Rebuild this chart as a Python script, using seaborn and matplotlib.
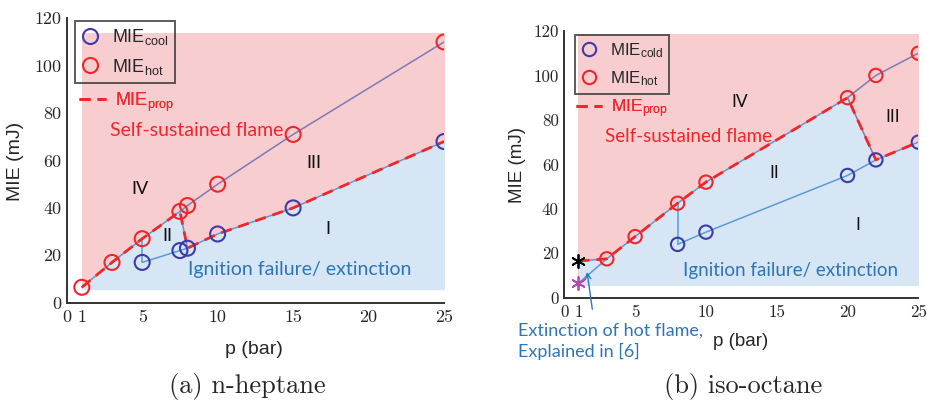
#!/usr/bin/env python3

import numpy as np
import matplotlib
matplotlib.use("Agg")
import matplotlib.pyplot as plt
from matplotlib.lines import Line2D
import seaborn as sns
import pandas as pd

sns.set_style("white")
plt.rcParams['font.family'] = ['Liberation Sans', 'DejaVu Sans']
plt.rcParams['mathtext.default'] = 'regular'

# ---- n-heptane (a) ----
hep_hot_p = [1, 3, 5, 7.5, 8, 10, 15, 25]
hep_hot_mie = [6.5, 17, 27, 38.5, 41, 50, 71, 110]
hep_cool_p = [5, 7.5, 8, 10, 15, 25]
hep_cool_mie = [17, 22, 23, 29, 40, 68]
hep_prop_p = [1, 3, 5, 7.5, 8, 10, 15, 25]
hep_prop_mie = [6.5, 17, 27, 38.5, 23, 29, 40, 68]
# connecting paths (light blue / grey-purple)
hep_blue_paths = [
    ([1, 3, 5, 7.5, 8], [6.5, 17, 27, 38.5, 41]),
    ([5, 5], [27, 17]),
    ([7.5, 8], [38.5, 23]),
    (hep_cool_p, hep_cool_mie),
]
hep_grey_paths = [
    ([8, 10, 15, 25], [41, 50, 71, 110]),
]
hep_regions = ["IV", "II", "III", "I"]
hep_region_p = [4.85, 6.7, 16.4, 17.3]
hep_region_mie = [48, 28, 59, 31]

# ---- iso-octane (b) ----
iso_hot_p = [3, 5, 8, 10, 20, 22, 25]
iso_hot_mie = [17.5, 27.5, 42.5, 52, 90, 100, 110]
iso_cold_p = [8, 10, 20, 22, 25]
iso_cold_mie = [24, 29.5, 55, 62, 70]
iso_prop_p = [1, 3, 5, 8, 10, 20, 22, 25]
iso_prop_mie = [16.5, 17.5, 27.5, 42.5, 52, 90, 62, 70]
iso_star_black = (1, 16.5)
iso_star_magenta = (1, 6.5)
iso_blue_paths = [
    ([1, 3, 5, 8, 10, 20], [6.5, 17.5, 27.5, 42.5, 52, 90]),
    ([1, 3], [16.5, 17.5]),
    ([8, 8], [42.5, 24]),
    (iso_cold_p, iso_cold_mie),
]
iso_grey_paths = [
    ([20, 22, 25], [90, 100, 110]),
    ([20, 22], [90, 62]),
]
iso_regions = ["IV", "III", "II", "I"]
iso_region_p = [12.4, 23.2, 14.8, 20.7]
iso_region_mie = [88, 81.5, 56, 32.5]

xticks = [0, 1, 5, 10, 15, 20, 25]
yticks = [0, 20, 40, 60, 80, 100, 120]

PINK = '#f8cdd0'
LBLUE = '#d6e6f5'
RED = '#f0262a'
DBLUE = '#3c3ca8'
LINEBLUE = '#5b9bd5'
GREY = '#7b7bb5'
TXTBLUE = '#2e75b6'


def draw_panel(ax, hot_p, hot_mie, cool_p, cool_mie, prop_p, prop_mie,
               blue_paths, grey_paths, top, msize, fs, cool_name):
    # background regions
    ax.fill_between([1, 25.15], 5.5, top, color=PINK, lw=0, zorder=0)
    ax.fill_between(prop_p + [25.15], 5.5, prop_mie + [prop_mie[-1]],
                    color=LBLUE, lw=0, zorder=0.5)

    for px, py in blue_paths:
        sns.lineplot(x=px, y=py, ax=ax, color=LINEBLUE, lw=1.1, sort=False,
                     estimator=None, zorder=2)
    for px, py in grey_paths:
        sns.lineplot(x=px, y=py, ax=ax, color=GREY, lw=1.1, sort=False,
                     estimator=None, zorder=2)

    sns.lineplot(x=prop_p, y=prop_mie, ax=ax, color=RED, lw=2.0, sort=False,
                 estimator=None, dashes=False, zorder=3)
    ax.lines[-1].set_dashes([4, 2.5])

    df_hot = pd.DataFrame({'p': hot_p, 'MIE': hot_mie})
    df_cool = pd.DataFrame({'p': cool_p, 'MIE': cool_mie})
    sns.scatterplot(data=df_cool, x='p', y='MIE', ax=ax, s=msize ** 2,
                    facecolor='none', edgecolor=DBLUE, linewidth=1.5,
                    zorder=4)
    sns.scatterplot(data=df_hot, x='p', y='MIE', ax=ax, s=msize ** 2,
                    facecolor='none', edgecolor=RED, linewidth=1.5,
                    zorder=4)

    ax.set_xlim(0, 25)
    ax.set_ylim(0, 120)
    ax.set_xticks(xticks)
    ax.set_yticks(yticks)
    ax.set_xticklabels([str(t) for t in xticks], family='cmr10', fontsize=fs)
    ax.set_yticklabels([str(t) for t in yticks], family='cmr10', fontsize=fs)
    ax.tick_params(direction='in', length=4, width=1, color='#333333',
                   pad=4)
    ax.tick_params(axis='x', pad=5)
    for s in ['top', 'right']:
        ax.spines[s].set_visible(False)
    for s in ['left', 'bottom']:
        ax.spines[s].set_color('#333333')
        ax.spines[s].set_linewidth(1.4)
    ax.set_xlabel('')
    ax.set_ylabel('')

    handles = [
        Line2D([], [], ls='none', marker='o', ms=msize, mfc='none',
               mec=DBLUE, mew=1.5),
        Line2D([], [], ls='none', marker='o', ms=msize, mfc='none',
               mec=RED, mew=1.5),
    ]
    leg = ax.legend(handles, [r'MIE$_{%s}$' % cool_name, r'MIE$_{hot}$'],
                    loc='upper left', frameon=True, fancybox=False,
                    fontsize=fs, handlelength=1.0, handletextpad=0.7,
                    borderpad=0.35, labelspacing=0.55, borderaxespad=0)
    leg.get_frame().set_facecolor('none')
    leg.get_frame().set_edgecolor('#333333')
    leg.get_frame().set_linewidth(1.4)
    return leg


fig = plt.figure(figsize=(9.28, 4.01), dpi=100)
ax1 = fig.add_axes([0.0719, 0.2451, 0.4066, 0.7093])
ax2 = fig.add_axes([0.6081, 0.2576, 0.3815, 0.6651])

leg1 = draw_panel(ax1, hep_hot_p, hep_hot_mie, hep_cool_p, hep_cool_mie,
                  hep_prop_p, hep_prop_mie, hep_blue_paths, hep_grey_paths,
                  114, 10.8, 13, 'cool')
leg1.set_bbox_to_anchor((0.022, 0.992), transform=ax1.transAxes)
leg2 = draw_panel(ax2, iso_hot_p, iso_hot_mie, iso_cold_p, iso_cold_mie,
                  iso_prop_p, iso_prop_mie, iso_blue_paths, iso_grey_paths,
                  118.6, 9.6, 12.2, 'cold')
leg2.set_bbox_to_anchor((0.030, 0.985), transform=ax2.transAxes)

# MIE_prop legend entries (outside the box)
for ax, y, fs in [(ax1, 0.705, 13), (ax2, 0.71, 12.5)]:
    h = Line2D([], [], color=RED, lw=2.0, dashes=[4, 2.5])
    lg = ax.legend([h], [r'MIE$_{prop}$'], loc='center left',
                   bbox_to_anchor=(0.033, y), frameon=False, fontsize=fs,
                   handlelength=1.5, handletextpad=0.5, labelcolor=RED,
                   borderaxespad=0, borderpad=0)
    ax.add_artist(lg)
ax1.add_artist(leg1)
ax2.add_artist(leg2)

# region labels
for ax, names, rp, rm, fs in [(ax1, hep_regions, hep_region_p, hep_region_mie, 13),
                              (ax2, iso_regions, iso_region_p, iso_region_mie, 12.5)]:
    for n, x, y in zip(names, rp, rm):
        ax.text(x, y, n, fontsize=fs, family='Lato', ha='center',
                va='center', color='#111111', zorder=5)

ax1.text(2.87, 72.6, 'Self-sustained flame', color=RED, family='Lato',
         fontsize=14, va='center', ha='left', zorder=5)
ax1.text(8.05, 14.2, 'Ignition failure/ extinction', color=TXTBLUE,
         family='Lato', fontsize=14, va='center', ha='left', zorder=5)
ax2.text(2.87, 72.5, 'Self-sustained flame', color=RED, family='Lato',
         fontsize=13.5, va='center', ha='left', zorder=5)
ax2.text(8.4, 12.2, 'Ignition failure/ extinction', color=TXTBLUE,
         family='Lato', fontsize=13.5, va='center', ha='left', zorder=5)

# stars at 1 bar (iso-octane)
ax2.scatter(*iso_star_black, marker=(6, 2, 0), s=90, color='black',
            lw=1.3, zorder=5, clip_on=False)
ax2.scatter(*iso_star_magenta, marker=(6, 2, 0), s=90, color='#b04cb0',
            lw=1.3, zorder=5, clip_on=False)

# annotation for the hot flame extinction
ax2.annotate('', xy=(1.58, 12.8), xycoords='data',
             xytext=(592.7, 401 - 312), textcoords='figure pixels',
             arrowprops=dict(arrowstyle='->', color=TXTBLUE, lw=1.0))
fig.text(518 / 928, 1 - 341 / 401, 'Extinction of hot flame,\nExplained in [6]',
         color=TXTBLUE, family='Lato', fontsize=13, ha='left', va='center',
         linespacing=1.3)

# axis labels
fig.text(15 / 928, 1 - 161 / 401, 'MIE (mJ)', rotation=90, fontsize=14,
         ha='center', va='center')
fig.text(518 / 928, 1 - 165 / 401, 'MIE (mJ)', rotation=90, fontsize=13.5,
         ha='center', va='center')
fig.text(254 / 928, 1 - 349 / 401, 'p (bar)', fontsize=14, ha='center',
         va='center')
fig.text(741 / 928, 1 - 341 / 401, 'p (bar)', fontsize=13.5, ha='center',
         va='center')

# captions
fig.text(247.5 / 928, 1 - 387 / 401, '(a) n-heptane', family='cmr10',
         fontsize=19, ha='center', va='center')
fig.text(743 / 928, 1 - 387 / 401, '(b) iso-octane', family='cmr10',
         fontsize=19, ha='center', va='center')

plt.savefig('out.png', dpi=100)
plt.close()
